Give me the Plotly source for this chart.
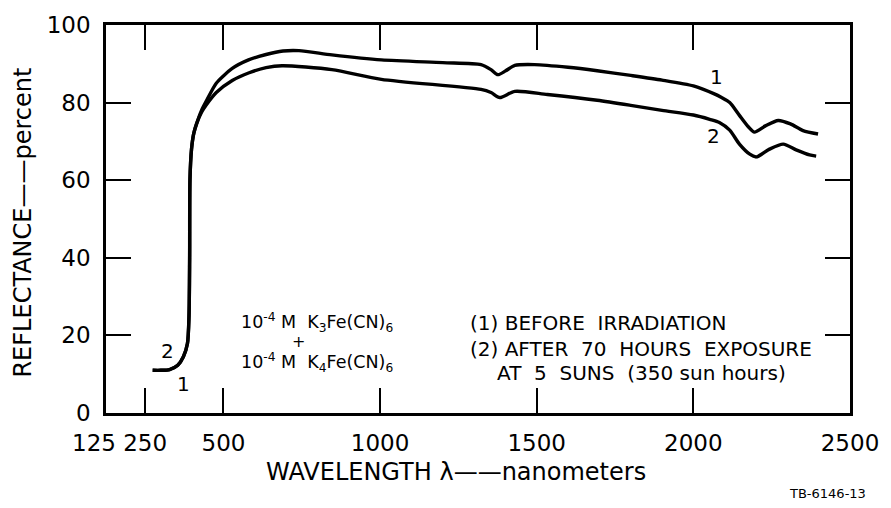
import plotly.graph_objects as go

# ---- data ----
wl_1 = [274, 300, 328, 354, 372, 385, 390, 392, 393, 398, 405, 414, 430, 446, 477, 528, 580, 636,
        690, 741, 846, 1004, 1200, 1322, 1354, 1376, 1401, 1430, 1493, 1600, 1693, 1800, 1900,
        2000, 2065, 2090, 2116, 2147, 2176, 2195, 2230, 2271, 2310, 2350, 2398]
refl_1 = [11.0, 11.0, 11.2, 12.3, 14.5, 17.9, 25, 40, 60, 68, 72, 74.5, 78, 80.5, 85, 88.8, 91.0, 92.4,
          93.3, 93.4, 92.3, 91.0, 90.3, 89.8, 88.5, 87.2, 88.2, 89.6, 89.8, 89.1, 88.2, 87.0, 85.8,
          84.3, 82.3, 81.3, 80.0, 76.7, 73.7, 72.4, 74.0, 75.4, 74.5, 72.8, 71.9]

wl_2 = [274, 300, 328, 354, 372, 385, 390, 392, 393, 398, 405, 414, 430, 446, 477, 528, 582, 636,
        687, 846, 1004, 1322, 1354, 1382, 1430, 1534, 1693, 1800, 1900, 2000, 2052, 2083, 2116,
        2147, 2180, 2201, 2243, 2287, 2328, 2371, 2392]
refl_2 = [11.0, 11.0, 11.2, 12.3, 14.5, 17.9, 25, 40, 60, 68, 72, 74.5, 77.5, 79.5, 82.6, 85.7, 87.7, 89.0,
          89.5, 88.5, 86.0, 83.4, 82.6, 81.3, 82.9, 82.1, 80.6, 79.3, 78.0, 76.8, 75.7, 74.9, 72.9,
          69.3, 66.7, 66.0, 68.0, 69.3, 67.8, 66.5, 66.2]

x_ticks = [125, 250, 500, 1000, 1500, 2000, 2500]
x_tick_text = ["", "250", "500", "1000", "1500", "2000", "2500"]
first_x_label = "125"
y_ticks = [0, 20, 40, 60, 80, 100]

FONT = "DejaVu Sans"
fig = go.Figure()
for wl, rf in ((wl_1, refl_1), (wl_2, refl_2)):
    fig.add_trace(go.Scatter(x=wl, y=rf, mode="lines",
                             line=dict(color="black", width=3.4, shape="spline", smoothing=0.7),
                             showlegend=False, hoverinfo="skip"))

axis_common = dict(showgrid=False, zeroline=False, showline=True, linecolor="black", linewidth=2.5,
                   mirror="ticks", ticks="inside", ticklen=25, tickwidth=2, tickcolor="black",
                   tickfont=dict(family=FONT, size=23, color="black"), ticklabelstandoff=8,
                   tickangle=0)

fig.update_layout(
    width=891, height=508,
    margin=dict(l=106, r=37, t=22, b=95),
    paper_bgcolor="white", plot_bgcolor="white",
    xaxis=dict(range=[125, 2500], tickmode="array", tickvals=x_ticks, ticktext=x_tick_text, **axis_common),
    yaxis=dict(range=[0, 100], tickmode="array", tickvals=y_ticks, **axis_common),
)

ann = []
def txt(x, y, t, size=20, xanchor="center", xref="x", yref="y"):
    ann.append(dict(x=x, y=y, xref=xref, yref=yref, text=t, showarrow=False, xanchor=xanchor,
                    yanchor="middle", font=dict(family=FONT, size=size, color="black")))

# first x tick label, nudged left as in the reference
ann.append(dict(x=x_ticks[0], y=-0.078, xref="x", yref="paper", text=first_x_label, showarrow=False,
                xanchor="center", yanchor="middle", xshift=-12,
                font=dict(family=FONT, size=23, color="black")))

txt(0.47, -0.153, "WAVELENGTH λ——nanometers", size=24, xref="paper", yref="paper")
ann.append(dict(x=-0.112, y=0.49, xref="paper", yref="paper", text="REFLECTANCE——percent",
                showarrow=False, textangle=-90, xanchor="center", yanchor="middle",
                font=dict(family=FONT, size=24, color="black")))
txt(1.024, -0.207, "TB-6146-13", size=13, xanchor="right", xref="paper", yref="paper")

txt(798, 23.3, "10<sup>-4</sup> M  K<sub>3</sub>Fe(CN)<sub>6</sub>", size=17.5)
txt(741, 18.5, "+", size=16)
txt(798, 12.9, "10<sup>-4</sup> M  K<sub>4</sub>Fe(CN)<sub>6</sub>", size=17.5)
txt(1281, 23.3, "(1) BEFORE  IRRADIATION", xanchor="left")
txt(1281, 16.4, "(2) AFTER  70  HOURS  EXPOSURE", xanchor="left")
txt(1366, 10.2, "AT  5  SUNS  (350 sun hours)", xanchor="left")

txt(2075, 86.5, "1")
txt(2065, 71.5, "2")
txt(320, 16.0, "2")
txt(372, 7.5, "1")

fig.update_layout(annotations=ann)
fig.write_html("out.html")
